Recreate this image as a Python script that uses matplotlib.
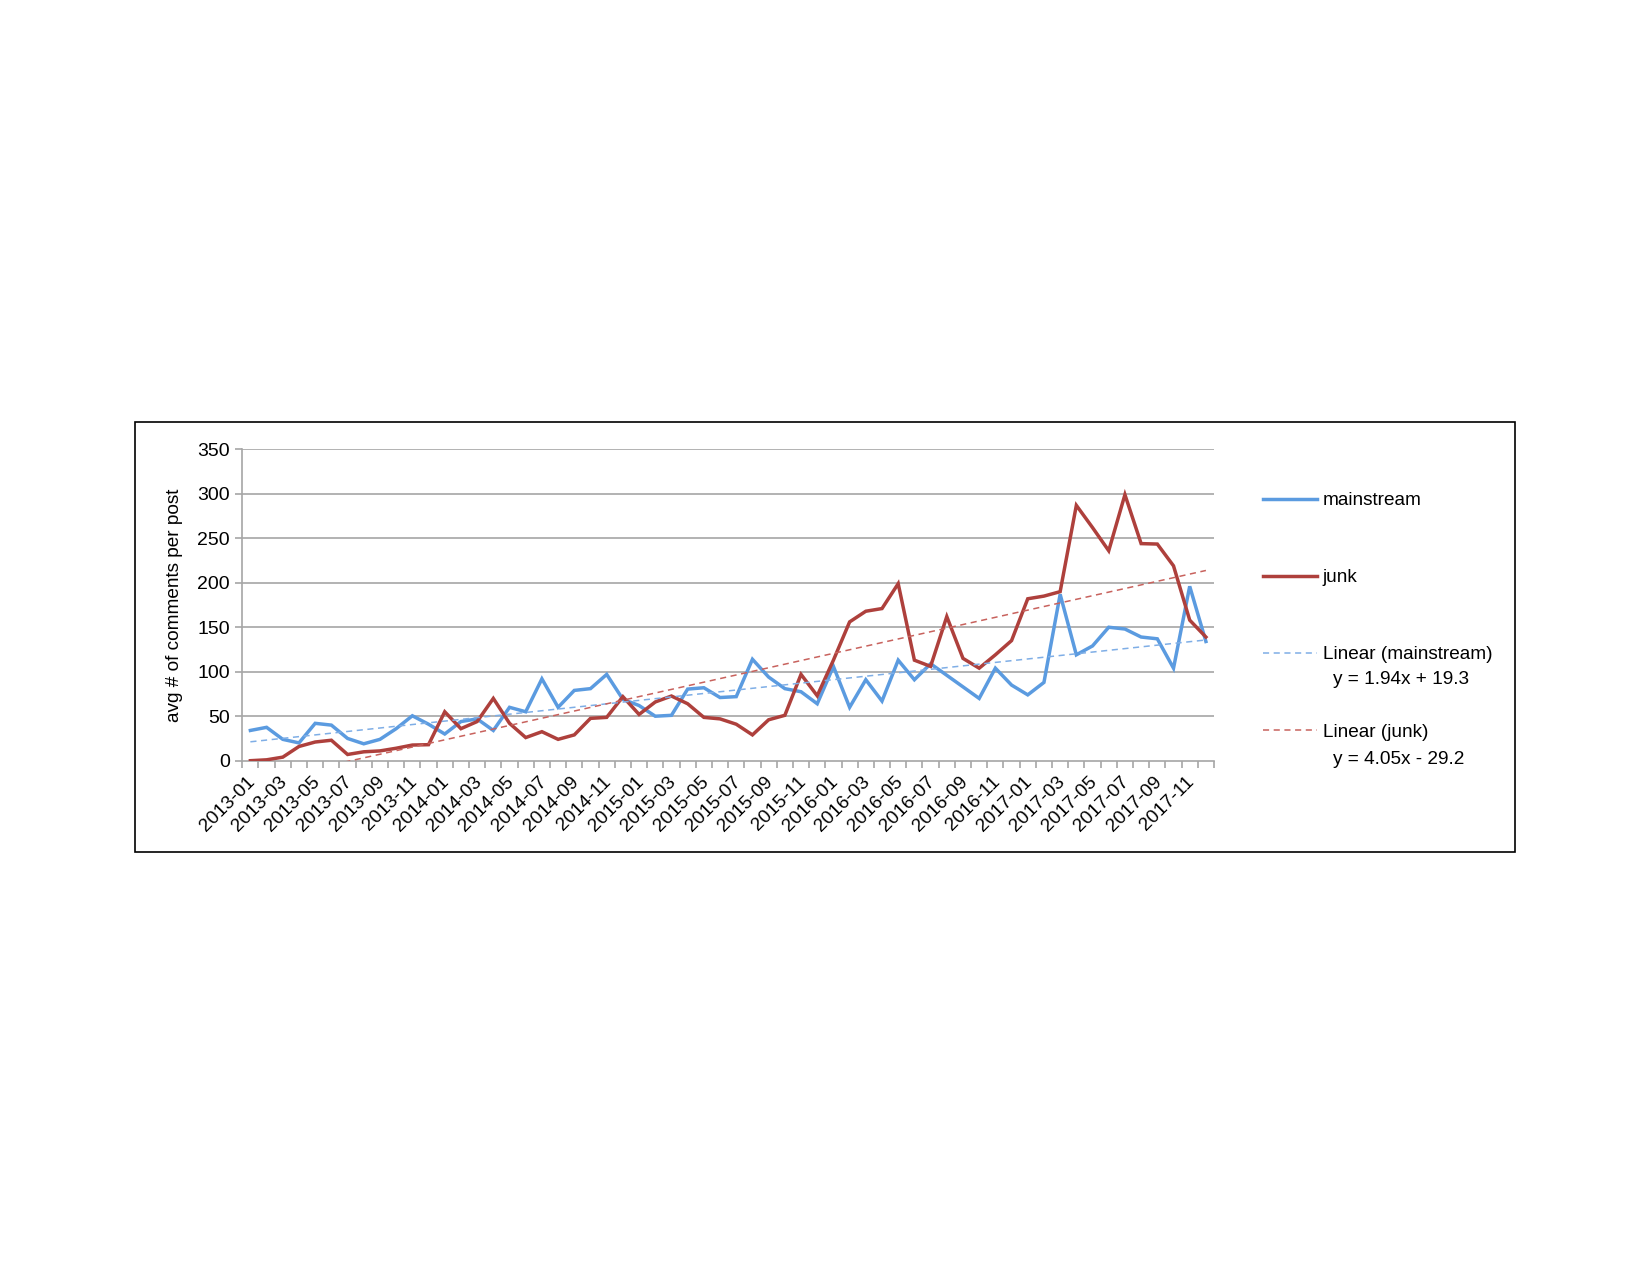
import matplotlib
matplotlib.use("Agg")
import matplotlib.pyplot as plt
from matplotlib.lines import Line2D
from matplotlib.patches import Rectangle
import numpy as np

plt.rcParams['font.family'] = ['Liberation Sans', 'DejaVu Sans']

months = [f"{y}-{m:02d}" for y in range(2013, 2018) for m in range(1, 13)]

mainstream = [34, 37.5, 24, 20, 42, 40, 25, 19, 24, 36,
              50.5, 41, 30, 44, 47, 34, 60, 55, 92, 60,
              79, 81, 97, 69, 62, 50, 51, 80.5, 82, 71,
              72, 114, 94, 81, 77.5, 64, 106, 60, 91, 67,
              113, 91, 109, 96, 83, 70, 104, 85, 74, 88,
              187, 119, 129, 150, 148, 139, 137, 104, 196, 134]

junk = [0, 1, 4, 16, 21, 23, 7, 10, 11, 14,
        17.6, 18, 55, 36, 44, 70, 42, 26, 32.6, 24,
        29, 47.6, 48.7, 72, 52, 66, 72.7, 64, 48.7, 47,
        41, 29, 46, 51, 97, 73, 113, 156, 168, 171,
        199, 113, 106, 162, 115, 104, 119, 135, 182, 185,
        190, 287, 262, 236, 299, 244, 243.5, 219, 158, 139]

trend_mainstream = (1.94, 19.3)
trend_junk = (4.05, -29.2)

yticks = [0, 50, 100, 150, 200, 250, 300, 350]

BLUE = '#5B9BE0'
RED = '#AE403C'
BLUE_T = '#7FAEE6'
RED_T = '#C8625D'
FS = 13.7

fig = plt.figure(figsize=(16.5, 12.75), dpi=100)
fig.patch.set_facecolor('white')

# outer frame
fig.add_artist(Rectangle((134.5/1650, 1 - 852/1275), (1515-134.5)/1650, (852-422)/1275,
                         transform=fig.transFigure, fill=False, edgecolor='black', linewidth=1.2))

ax = fig.add_axes([242.3/1650, 1 - 760.7/1275, (1214-242.3)/1650, (760.7-449.3)/1275])
n = len(months)
x = np.arange(n)

ax.plot(x, mainstream, color=BLUE, lw=2.5, solid_joinstyle='miter', zorder=3)
ax.plot(x, junk, color=RED, lw=2.5, solid_joinstyle='miter', zorder=4)

xi = np.arange(1, n + 1)
ax.plot(x, trend_mainstream[0] * xi + trend_mainstream[1], color=BLUE_T, lw=1.1,
        ls=(0, (4, 3)), zorder=5)
ax.plot(x, trend_junk[0] * xi + trend_junk[1], color=RED_T, lw=1.1,
        ls=(0, (4, 3)), zorder=5)

ax.set_xlim(-0.5, n - 0.5)
ax.set_ylim(0, 350)
ax.set_yticks(yticks)
ax.set_yticklabels([str(v) for v in yticks], fontsize=14)
for v in yticks[1:]:
    ax.axhline(v, color='#A6A6A6', lw=1.2, zorder=1)

for s in ['top', 'right']:
    ax.spines[s].set_visible(False)
ax.spines['left'].set_color('#A6A6A6')
ax.spines['bottom'].set_color('#A6A6A6')
ax.spines['left'].set_linewidth(1.2)
ax.spines['bottom'].set_linewidth(1.2)

ax.set_xticks(np.arange(-0.5, n, 1.0), minor=False)
ax.set_xticklabels([])
ax.tick_params(axis='x', length=5, color='#A6A6A6', width=1.2)
ax.tick_params(axis='y', length=5, color='#A6A6A6', width=1.2, pad=4)

# category labels every second month
for i in range(0, n, 2):
    ax.text(i - 0.25, -14, months[i], rotation=45, ha='right', va='top',
            fontsize=FS, rotation_mode='anchor', transform=ax.transData)

ax.set_ylabel('avg # of comments per post', fontsize=FS, labelpad=10)

handles = [Line2D([], [], color=BLUE, lw=2.5),
           Line2D([], [], color=RED, lw=2.5),
           Line2D([], [], color=BLUE_T, lw=1.1, ls=(0, (4, 3))),
           Line2D([], [], color=RED_T, lw=1.1, ls=(0, (4, 3)))]
labels = ['mainstream', 'junk', 'Linear (mainstream)', 'Linear (junk)']
leg = fig.legend(handles, labels, loc='upper left',
                 bbox_to_anchor=(1263/1650, 1 - 492/1275),
                 frameon=False, fontsize=FS, handlelength=2.85, handletextpad=0.3,
                 labelspacing=3.14, borderpad=0, borderaxespad=0)

fig.text(1333/1650, 1 - 680/1275, 'y = 1.94x + 19.3', fontsize=FS, va='center', ha='left')
fig.text(1333/1650, 1 - 759/1275, 'y = 4.05x - 29.2', fontsize=FS, va='center', ha='left')

fig.savefig('out.png', dpi=100, facecolor='white')
